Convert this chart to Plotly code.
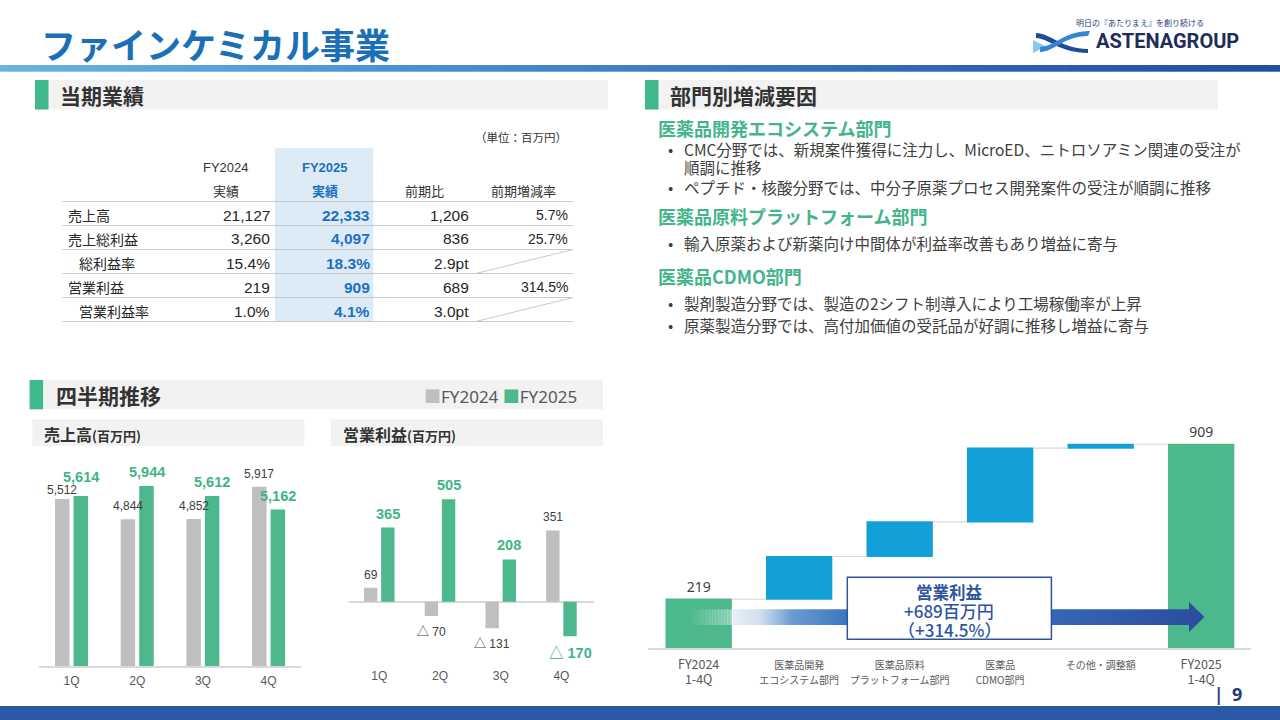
import plotly.graph_objects as go

W, H = 1280, 720
def X(px): return px / W
def Y(py): return 1 - py / H

JP = "Noto Sans CJK JP, sans-serif"
NUM = "Liberation Sans, Arial, Noto Sans CJK JP, sans-serif"
LAT = "Noto Sans, Noto Sans CJK JP, sans-serif"

GRAY_BAR = "#bfbfbf"
GREEN = "#4cb88b"
GREEN_TXT = "#3fb484"
BLUE_BAR = "#139fd8"
ACCENT = "#3fb98b"
HDR_BG = "#f2f2f2"
DARK = "#333333"
TBL_BLUE = "#1f70bf"
NAVY = "#2f55a0"

# ---------------- data ----------------
series_names = ["FY2024", "FY2025"]
quarters = ["1Q", "2Q", "3Q", "4Q"]
sales_fy2024 = [5512, 4844, 4852, 5917]
sales_fy2025 = [5614, 5944, 5612, 5162]
op_fy2024 = [69, -70, -131, 351]
op_fy2025 = [365, 505, 208, -170]

wf_categories = ["FY2024<br>1-4Q", "医薬品開発<br>エコシステム部門", "医薬品原料<br>プラットフォーム部門",
                 "医薬品<br>CDMO部門", "その他・調整額", "FY2025<br>1-4Q"]
wf_measures = ["absolute", "relative", "relative", "relative", "relative", "total"]
wf_values = [219, 190, 154, 329, 17, 909]

table_rows = ["売上高", "売上総利益", "総利益率", "営業利益", "営業利益率"]
table_fy2024 = [21127, 3260, 15.4, 219, 1.0]
table_fy2025 = [22333, 4097, 18.3, 909, 4.1]
table_diff = [1206, 836, 2.9, 689, 3.0]
table_pct = [5.7, 25.7, None, 314.5, None]
table_headers_top = ["FY2024", "FY2025"]
table_headers = ["実績", "実績", "前期比", "前期増減率"]

op_change_title = "営業利益"
op_change_amount = "+689百万円"
op_change_pct = "（+314.5%）"

segments = [
    ("医薬品開発エコシステム部門",
     ["CMC分野では、新規案件獲得に注力し、MicroED、ニトロソアミン関連の受注が|順調に推移",
      "ペプチド・核酸分野では、中分子原薬プロセス開発案件の受注が順調に推移"]),
    ("医薬品原料プラットフォーム部門",
     ["輸入原薬および新薬向け中間体が利益率改善もあり増益に寄与"]),
    ("医薬品CDMO部門",
     ["製剤製造分野では、製造の2シフト制導入により工場稼働率が上昇",
      "原薬製造分野では、高付加価値の受託品が好調に推移し増益に寄与"]),
]

# ---------------- helpers ----------------
shapes = []
ann = []

def rect(x0, y0, x1, y1, fill, line=None, lw=0, layer="below"):
    shapes.append(dict(type="rect", xref="paper", yref="paper",
                       x0=X(x0), x1=X(x1), y0=Y(y1), y1=Y(y0),
                       fillcolor=fill, line=dict(color=line or fill, width=lw), layer=layer))

def seg(x0, y0, x1, y1, color, w=1, layer="above"):
    shapes.append(dict(type="line", xref="paper", yref="paper",
                       x0=X(x0), x1=X(x1), y0=Y(y0), y1=Y(y1),
                       line=dict(color=color, width=w), layer=layer))

def path(cmds, fill, layer="above"):
    s = ""
    for cmd, pts in cmds:
        s += cmd + " ".join(f"{X(px):.5f},{Y(py):.5f}" for px, py in pts) + " "
    shapes.append(dict(type="path", xref="paper", yref="paper", path=s + "Z",
                       fillcolor=fill, line=dict(width=0), layer=layer))

def text(x, y, s, size, color=DARK, family=JP, xanchor="left", yanchor="middle", weight=None):
    f = dict(family=family, size=size, color=color)
    if weight is not None:
        f["weight"] = weight
    ann.append(dict(x=X(x), y=Y(y), xref="paper", yref="paper", text=s, showarrow=False,
                    xanchor=xanchor, yanchor=yanchor, font=f, borderpad=0))

def hexrgb(h):
    h = h.lstrip("#")
    return tuple(int(h[i:i + 2], 16) for i in (0, 2, 4))

def interp(stops, x):
    for (xa, ca), (xb, cb) in zip(stops, stops[1:]):
        if xa <= x <= xb:
            t = (x - xa) / (xb - xa) if xb > xa else 0
            return tuple(ca[i] + (cb[i] - ca[i]) * t for i in range(4))
    return stops[-1][1] if x > stops[-1][0] else stops[0][1]

def gradient_band(x0, x1, y0, y1, stops, step, layer="below"):
    x = x0
    while x < x1:
        xe = min(x + step, x1)
        r, g, b, a = interp(stops, (x + xe) / 2)
        rect(x, y0, xe + 0.6, y1, f"rgba({int(r)},{int(g)},{int(b)},{a:.3f})", layer=layer)
        x = xe

def c(h, a=1.0):
    r, g, b = hexrgb(h)
    return (r, g, b, a)

# ---------------- page decoration ----------------
text(40, 43.5, "ファインケミカル事業", 35, color="#1b6fb7", weight="bold")
gradient_band(0, 1280, 65, 71.7,
              [(0, c("#6ab3e4")), (400, c("#4a92d2")), (1000, c("#2d62b3")), (1280, c("#234d9f"))], 10)
# logo
path([("M", [(1033, 40)]), ("L", [(1046, 46.5)]), ("L", [(1033, 53)])], "#8cc6ee")
path([("M", [(1036, 33)]), ("C", [(1050, 33), (1062, 49), (1088, 49)]), ("L", [(1088, 53)]),
      ("C", [(1060, 53), (1048, 38), (1036, 38)])], "#1e4c9a")
path([("M", [(1040, 52)]), ("C", [(1054, 52), (1064, 36), (1088, 36)]), ("L", [(1090, 31)]),
      ("C", [(1064, 31), (1054, 47), (1040, 47)])], "#3585d3")
text(1075, 22.5, "明日の『あたりまえ』を創り続ける", 8, color="#1f3d7a")
text(1095, 41, "<b>ASTENAGROUP</b>", 20, color="#1e2d5c", family="Roboto, sans-serif")
rect(0, 706, 1280, 720, "#2d58a5")
text(1218.5, 694, "<b>|</b>", 17, color="#1f3c78", family=LAT, xanchor="center")
text(1237, 694, "<b>9</b>", 18, color="#1f3c78", family=LAT, xanchor="center")

# section headers
def section(x0, x1, y0, y1, title, size=21, tx=None):
    rect(x0, y0, x1, y1, HDR_BG)
    rect(x0, y0, x0 + 13.5, y1, ACCENT)
    text(tx if tx else x0 + 24, (y0 + y1) / 2, f"<b>{title}</b>", size, color=DARK)

section(35, 608, 80, 109.5, "当期業績")
section(645, 1218, 80, 109.5, "部門別増減要因")
section(29.6, 603, 380, 409.3, "四半期推移", tx=55)
rect(32.4, 419.3, 304.3, 446, HDR_BG)
rect(331, 419.3, 603, 446, HDR_BG)
text(42.7, 433.5, "<b>売上高</b><b><span style='font-size:13px'>(百万円)</span></b>", 16, color=DARK)
text(342, 433.5, "<b>営業利益</b><b><span style='font-size:13px'>(百万円)</span></b>", 16, color=DARK)
text(578, 396.5,
     f"<span style='color:{GRAY_BAR}'>■</span>{series_names[0]} "
     f"<span style='color:{GREEN}'>■</span>{series_names[1]}",
     17, color="#595959", family=LAT, xanchor="right")

# ---------------- results table ----------------
text(568.3, 136.7, "（単位：百万円）", 11.5, color=DARK, xanchor="right")
rect(275, 148.3, 373.3, 321.7, "#ddebf7")
col_right = [271, 370.5, 470, 568.5]
col_center = [226, 325, 424, 523]
text(col_center[0], 167, table_headers_top[0], 13, color=DARK, family=NUM, xanchor="center")
text(col_center[1], 167, f"<b>{table_headers_top[1]}</b>", 13, color=TBL_BLUE, family=NUM, xanchor="center")
for j, h in enumerate(table_headers):
    col = TBL_BLUE if j == 1 else DARK
    s = f"<b>{h}</b>" if j == 1 else h
    text(col_center[j], 190.5, s, 13, color=col, xanchor="center")
LINE_C = "#c8c8c8"
seg(62.6, 201.5, 573, 201.5, LINE_C, 1)

def fmt_val(v, is_rate, suffix="%"):
    return f"{v:.1f}{suffix}" if is_rate else f"{v:,}"

for i, lab in enumerate(table_rows):
    yc = 215 + 24 * i
    is_rate = lab.endswith("率")
    text(78 if is_rate else 66.5, yc, lab, 14, color="#262626")
    text(col_right[0], yc, fmt_val(table_fy2024[i], is_rate), 15.5, color="#262626", family=NUM, xanchor="right")
    text(col_right[1], yc, f"<b>{fmt_val(table_fy2025[i], is_rate)}</b>", 15.5, color=TBL_BLUE, family=NUM, xanchor="right")
    text(col_right[2], yc, fmt_val(table_diff[i], is_rate, "pt"), 15.5, color="#262626", family=NUM, xanchor="right")
    if table_pct[i] is None:
        seg(475.8, yc + 10.5, 573, yc - 13.5, LINE_C, 1)
    else:
        text(col_right[3], yc, f"{table_pct[i]:.1f}%", 14, color="#262626", family=NUM, xanchor="right")
    seg(62.6, yc + 10.5, 573, yc + 10.5, LINE_C, 1)

# ---------------- right-hand text ----------------
head_y = [127.5, 216, 276]
line_y = [[149, 167, 187], [243], [303, 325]]
for (title, bullets), hy, ys in zip(segments, head_y, line_y):
    text(656.6, hy, f"<b>{title}</b>", 18, color="#44b58a")
    lines = []
    for b in bullets:
        parts = b.split("|")
        lines.append((True, parts[0]))
        for p in parts[1:]:
            lines.append((False, p))
    for (bul, s), yy in zip(lines, ys):
        if bul:
            text(670, yy, "•", 15.5, color="#404040", xanchor="center")
        text(682.7, yy, s, 15.5, color="#404040")

# ---------------- charts ----------------
fig = go.Figure()
fig.add_trace(go.Bar(x=quarters, y=sales_fy2024, name=series_names[0], marker=dict(color=GRAY_BAR, line_width=0),
                     xaxis="x", yaxis="y", showlegend=False, hoverinfo="skip"))
fig.add_trace(go.Bar(x=quarters, y=sales_fy2025, name=series_names[1], marker=dict(color=GREEN, line_width=0),
                     xaxis="x", yaxis="y", showlegend=False, hoverinfo="skip"))
fig.add_trace(go.Bar(x=quarters, y=op_fy2024, name=series_names[0], marker=dict(color=GRAY_BAR, line_width=0),
                     xaxis="x2", yaxis="y2", showlegend=False, hoverinfo="skip"))
fig.add_trace(go.Bar(x=quarters, y=op_fy2025, name=series_names[1], marker=dict(color=GREEN, line_width=0),
                     xaxis="x2", yaxis="y2", showlegend=False, hoverinfo="skip"))

wf_text = [f"{v:,}" if m != "relative" else "" for v, m in zip(wf_values, wf_measures)]
fig.add_trace(go.Waterfall(
    x=wf_categories, y=wf_values, measure=wf_measures, xaxis="x3", yaxis="y3",
    increasing=dict(marker=dict(color=BLUE_BAR, line=dict(width=0))),
    decreasing=dict(marker=dict(color=BLUE_BAR, line=dict(width=0))),
    totals=dict(marker=dict(color=GREEN, line=dict(width=0))),
    connector=dict(line=dict(color="#d9d9d9", width=1.2)),
    text=wf_text, textposition="outside", cliponaxis=False,
    textfont=dict(family=LAT, size=14, color="#404040"),
    showlegend=False, hoverinfo="skip"))
wf_ticktext = [f"<span style='font-size:12.5px'>{cat}</span>" if cat.startswith("FY")
               else f"<span style='font-size:10px'>{cat}</span>" for cat in wf_categories]

def neg_fmt(v):
    return f"{v:,}" if v >= 0 else f"△ {abs(v):,}"

# sales labels (lift the FY2025 label when the pair of bars is nearly level)
for q, a, b in zip(quarters, sales_fy2024, sales_fy2025):
    close = abs(a - b) < 400
    ann.append(dict(x=q, y=a, xref="x", yref="y", text=neg_fmt(a), showarrow=False, xshift=-9.3,
                    yshift=0 if close else 4, yanchor="bottom", font=dict(family=NUM, size=12, color="#404040")))
    ann.append(dict(x=q, y=b, xref="x", yref="y", text=f"<b>{neg_fmt(b)}</b>", showarrow=False, xshift=9.3,
                    yshift=9 if close else 4, yanchor="bottom", font=dict(family=NUM, size=14.5, color=GREEN_TXT)))
for k, (vals, col, sz, shift) in enumerate([(op_fy2024, "#404040", 12, -8.65), (op_fy2025, GREEN_TXT, 14.5, 8.65)]):
    for q, v in zip(quarters, vals):
        s = neg_fmt(v) if k == 0 else f"<b>{neg_fmt(v)}</b>"
        ann.append(dict(x=q, y=v, xref="x2", yref="y2", text=s, showarrow=False, xshift=shift,
                        yshift=4 if v >= 0 else -7, yanchor="bottom" if v >= 0 else "top",
                        font=dict(family=NUM, size=sz, color=col)))

# ---------------- waterfall arrow + box ----------------
arrow_stops = [(688, (255, 255, 255, 0.0)), (731.5, (255, 255, 255, 0.35)), (732.5, c("#e8eff8")),
               (760, c("#d2e0f1")), (792, c("#6d9bd2")), (845, c("#3d78c0")), (1051, c("#3768b5")),
               (1190, c("#2c4f9f"))]
gradient_band(688, 1190, 609.3, 625, arrow_stops, 3, layer="above")
path([("M", [(1189, 602)]), ("L", [(1204.5, 617)]), ("L", [(1189, 632)])], "#2c4e9e")
rect(847.3, 577.3, 1051.4, 639.3, "white", line=NAVY, lw=1.5, layer="above")
text(949.4, 592.3, f"<b>{op_change_title}</b>", 16.5, color=NAVY, xanchor="center")
text(949.4, 610.8, op_change_amount, 17, color=NAVY, xanchor="center", weight=500)
text(949.4, 629.3, op_change_pct, 17, color=NAVY, xanchor="center", weight=500)

fig.update_layout(
    width=W, height=H, margin=dict(l=0, r=0, t=0, b=0, autoexpand=False),
    paper_bgcolor="white", plot_bgcolor="white",
    barmode="group", bargap=0.435, bargroupgap=0.22, waterfallgap=0.34,
    xaxis=dict(domain=[X(38.7), X(301.4)], anchor="y", showline=True, linecolor="#d9d9d9", linewidth=1.5,
               ticks="outside", ticklen=3, tickcolor="rgba(0,0,0,0)", showgrid=False, zeroline=False,
               tickfont=dict(family=NUM, size=12, color="#595959"), fixedrange=True, automargin=False,
               tickangle=0),
    yaxis=dict(domain=[Y(666), Y(453.9)], anchor="x", range=[0, 7000], visible=False, fixedrange=True,
               automargin=False),
    xaxis2=dict(domain=[X(348.9), X(593.6)], anchor="y2", showline=False, ticks="", showgrid=False,
                zeroline=False, tickfont=dict(family=NUM, size=12, color="#595959"), fixedrange=True,
                automargin=False, tickangle=0),
    yaxis2=dict(domain=[Y(667), Y(459.6)], anchor="x2", range=[-321.7, 700], showticklabels=False,
                showgrid=False, showline=False, ticks="", zeroline=True, zerolinecolor="#d9d9d9",
                zerolinewidth=1.5, fixedrange=True, automargin=False),
    xaxis3=dict(domain=[X(648.4), X(1251.4)], anchor="y3", showline=True, linecolor="#d9d9d9", linewidth=1.5,
                ticks="outside", ticklen=6, tickcolor="rgba(0,0,0,0)", showgrid=False, zeroline=False,
                tickmode="array", tickvals=wf_categories, ticktext=wf_ticktext, tickangle=0,
                tickfont=dict(family=JP, size=11, color="#595959"), fixedrange=True, automargin=False),
    yaxis3=dict(domain=[Y(648.3), Y(423.8)], anchor="x3", range=[0, 1000], visible=False, fixedrange=True,
                automargin=False),
    shapes=shapes, annotations=ann,
)

fig.write_html("out.html", config={"displayModeBar": False},
               post_script="document.body.style.margin='0';document.body.style.overflow='hidden';")
